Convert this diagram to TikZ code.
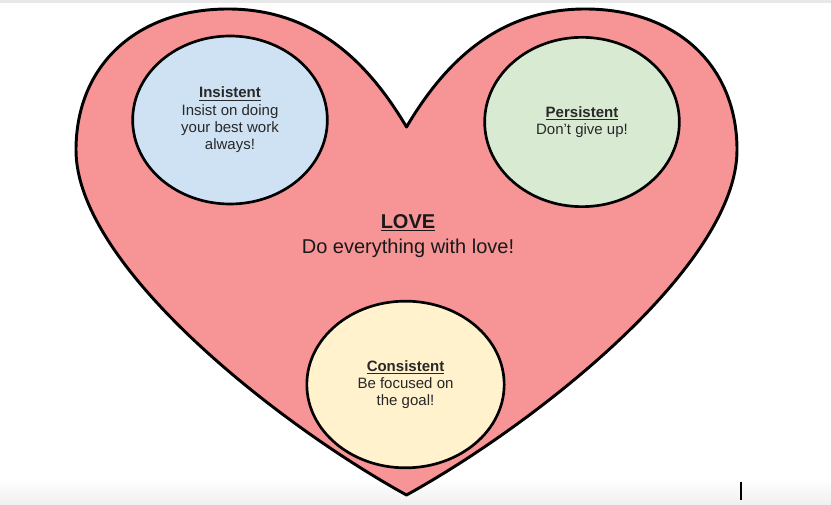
\documentclass[tikz,border=0pt]{standalone}
\usepackage{fontspec}
\setmainfont{Liberation Sans}
\usetikzlibrary{shapes.geometric}
\definecolor{heartpink}{RGB}{247,148,150}
\definecolor{bubbleblue}{RGB}{207,226,243}
\definecolor{bubblegreen}{RGB}{217,234,211}
\definecolor{bubbleyellow}{RGB}{255,242,204}
\definecolor{txtgray}{RGB}{40,40,40}
\begin{document}
\begin{tikzpicture}[x=0.75pt,y=-0.75pt,
	bubble/.style={ellipse,draw=black,line width=2pt,inner sep=0pt,align=center,text=txtgray,font=\fontsize{11.25}{13}\selectfont},
	title/.style={align=center,text=black!90,font=\fontsize{15}{18.5}\selectfont}]
		\useasboundingbox (0,0) rectangle (831,505);
		% window edges of the screenshot
		\fill[gray!18](0,0) rectangle (831,3);
		\shade[top color=white,bottom color=gray!12](0,478) rectangle (831,505);
		\draw[line width=1.5pt](741,482)--(741,500);
		% heart
		\draw[fill=heartpink,line width=2.2pt,line join=round](406.5,127) .. controls (371,67) and (318,9) .. (228,9) .. controls (137,9) and (76,65) .. (76,150) .. controls (76,265) and (276,423) .. (406.5,495) .. controls (537,423) and (737,265) .. (737,150) .. controls (737,65) and (676,9) .. (585,9) .. controls (495,9) and (442,67) .. cycle;
		\node[title](love) at (408,236) {\underline{\textbf{LOVE}}\\Do everything with love!};
		\node[bubble,fill=bubbleblue,minimum width=146pt,minimum height=126pt](insistent) at (230,120) {\underline{\textbf{Insistent}}\\Insist on doing\\your best work\\always!};
		\node[bubble,fill=bubblegreen,minimum width=146pt,minimum height=127pt](persistent) at (582,122) {\underline{\textbf{Persistent}}\\Don't give up!};
		\node[bubble,fill=bubbleyellow,minimum width=148pt,minimum height=125pt](consistent) at (405.5,384.5) {\underline{\textbf{Consistent}}\\Be focused on\\the goal!};
	    \end{tikzpicture}
\end{document}
